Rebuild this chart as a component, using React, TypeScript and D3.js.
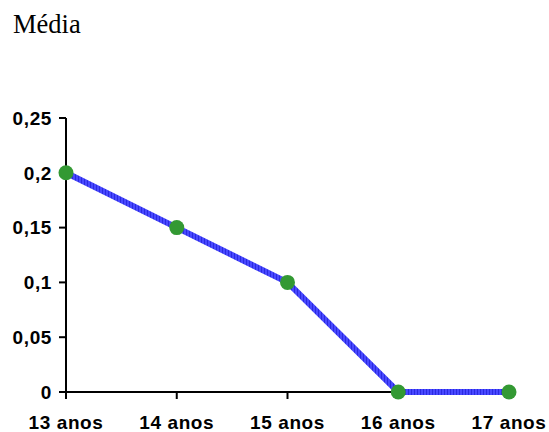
import React from "react";
import * as d3 from "d3";

const categories = ["13 anos", "14 anos", "15 anos", "16 anos", "17 anos"];
const values = [0.2, 0.15, 0.1, 0, 0];
const yTicks = [0, 0.05, 0.1, 0.15, 0.2, 0.25];
const title = "Média";

export default function App() {
  const W = 549, H = 432;
  const x = d3.scalePoint<string>().domain(categories).range([66, 509]);
  const y = d3.scaleLinear().domain([0, 0.25]).range([392, 118]);
  const fmt = (v: number) => String(v).replace(".", ",");
  const line = d3.line<number>().x((_, i) => x(categories[i])!).y(d => y(d));
  const font = "Arial, 'Liberation Sans', sans-serif";
  return (
    <svg width={W} height={H} style={{ position: "absolute", left: 0, top: 0 }}>
      <defs>
        <pattern id="stripe" patternUnits="userSpaceOnUse" width="3" height="3">
          <rect x="0" y="0" width="3" height="3" fill="#4848ff" />
          <rect x="0" y="0" width="1" height="3" fill="#2a2ae0" />
        </pattern>
      </defs>
      <rect width={W} height={H} fill="#fff" />
      <text x={13} y={33} fontFamily="'Liberation Serif', 'Times New Roman', serif" fontSize={26.5} fill="#000">{title}</text>
      {/* y axis */}
      <line x1={66} x2={66} y1={y(0.25)} y2={y(0)} stroke="#000" strokeWidth={2} />
      {yTicks.map(t => (
        <g key={t}>
          <line x1={59} x2={66} y1={y(t)} y2={y(t)} stroke="#000" strokeWidth={2} />
          <text x={52} y={y(t)} dy="0.36em" textAnchor="end" fontFamily={font} fontWeight="bold" fontSize={19} letterSpacing={0.6} fill="#000">{fmt(t)}</text>
        </g>
      ))}
      {/* x axis */}
      <line x1={66} x2={x(categories[categories.length - 1])!} y1={y(0)} y2={y(0)} stroke="#000" strokeWidth={2} />
      {categories.map(c => (
        <g key={c}>
          <line x1={x(c)!} x2={x(c)!} y1={y(0)} y2={y(0) + 7} stroke="#000" strokeWidth={2} />
          <text x={x(c)!} y={429} textAnchor="middle" fontFamily={font} fontWeight="bold" fontSize={19} letterSpacing={0.6} fill="#000">{c}</text>
        </g>
      ))}
      <path d={line(values)!} fill="none" stroke="url(#stripe)" strokeWidth={6} strokeLinejoin="round" />
      {values.map((v, i) => (
        <circle key={i} cx={x(categories[i])!} cy={y(v)} r={7.5} fill="#339933" />
      ))}
    </svg>
  );
}
